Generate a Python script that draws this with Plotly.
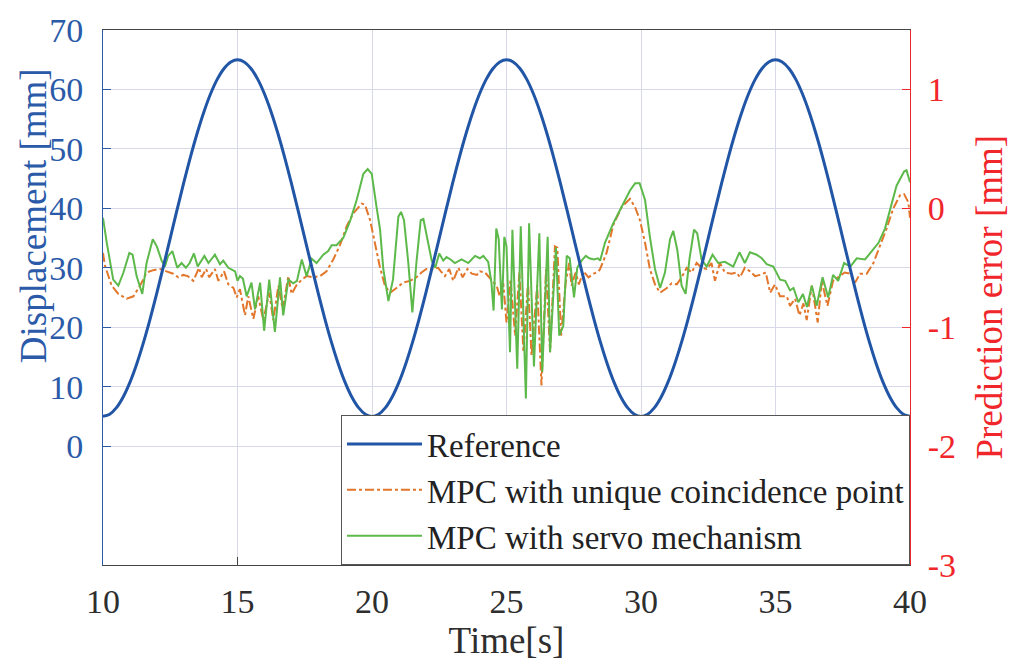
import plotly.graph_objects as go

# ---------------- data ----------------
ref_t = [10.0, 10.25, 10.5, 10.75, 11.0, 11.25, 11.5, 11.75, 12.0, 12.25,
         12.5, 12.75, 13.0, 13.25, 13.5, 13.75, 14.0, 14.25, 14.5, 14.75,
         15.0, 15.25, 15.5, 15.75, 16.0, 16.25, 16.5, 16.75, 17.0, 17.25,
         17.5, 17.75, 18.0, 18.25, 18.5, 18.75, 19.0, 19.25, 19.5, 19.75,
         20.0, 20.25, 20.5, 20.75, 21.0, 21.25, 21.5, 21.75, 22.0, 22.25,
         22.5, 22.75, 23.0, 23.25, 23.5, 23.75, 24.0, 24.25, 24.5, 24.75,
         25.0, 25.25, 25.5, 25.75, 26.0, 26.25, 26.5, 26.75, 27.0, 27.25,
         27.5, 27.75, 28.0, 28.25, 28.5, 28.75, 29.0, 29.25, 29.5, 29.75,
         30.0, 30.25, 30.5, 30.75, 31.0, 31.25, 31.5, 31.75, 32.0, 32.25,
         32.5, 32.75, 33.0, 33.25, 33.5, 33.75, 34.0, 34.25, 34.5, 34.75,
         35.0, 35.25, 35.5, 35.75, 36.0, 36.25, 36.5, 36.75, 37.0, 37.25,
         37.5, 37.75, 38.0, 38.25, 38.5, 38.75, 39.0, 39.25, 39.5, 39.75,
         40.0]
ref_y = [5.0, 5.37, 6.47, 8.27, 10.73, 13.79, 17.37, 21.38, 25.73, 30.31,
         35.0, 39.69, 44.27, 48.62, 52.63, 56.21, 59.27, 61.73, 63.53, 64.63,
         65.0, 64.63, 63.53, 61.73, 59.27, 56.21, 52.63, 48.62, 44.27, 39.69,
         35.0, 30.31, 25.73, 21.38, 17.37, 13.79, 10.73, 8.27, 6.47, 5.37,
         5.0, 5.37, 6.47, 8.27, 10.73, 13.79, 17.37, 21.38, 25.73, 30.31,
         35.0, 39.69, 44.27, 48.62, 52.63, 56.21, 59.27, 61.73, 63.53, 64.63,
         65.0, 64.63, 63.53, 61.73, 59.27, 56.21, 52.63, 48.62, 44.27, 39.69,
         35.0, 30.31, 25.73, 21.38, 17.37, 13.79, 10.73, 8.27, 6.47, 5.37,
         5.0, 5.37, 6.47, 8.27, 10.73, 13.79, 17.37, 21.38, 25.73, 30.31,
         35.0, 39.69, 44.27, 48.62, 52.63, 56.21, 59.27, 61.73, 63.53, 64.63,
         65.0, 64.63, 63.53, 61.73, 59.27, 56.21, 52.63, 48.62, 44.27, 39.69,
         35.0, 30.31, 25.73, 21.38, 17.37, 13.79, 10.73, 8.27, 6.47, 5.37,
         5.0]

ucp_t = [10.0, 10.07, 10.32, 10.57, 10.88, 11.13, 11.38, 11.62, 11.87, 12.12,
         12.36, 12.61, 12.8, 12.98, 13.15, 13.36, 13.57, 13.67, 13.83, 13.95,
         14.16, 14.29, 14.5, 14.66, 14.85, 14.97, 15.09, 15.28, 15.4, 15.59,
         15.77, 15.96, 16.18, 16.33, 16.52, 16.68, 16.89, 17.01, 17.21, 17.39,
         17.57, 17.82, 18.07, 18.31, 18.56, 18.81, 19.06, 19.31, 19.62, 19.74,
         19.93, 20.11, 20.3, 20.48, 20.67, 20.91, 21.16, 21.41, 21.65, 21.84,
         22.02, 22.27, 22.46, 22.56, 22.71, 22.87, 23.02, 23.21, 23.37, 23.55,
         23.71, 23.9, 24.01, 24.2, 24.44, 24.63, 24.75, 24.88, 25.0, 25.15,
         25.32, 25.48, 25.63, 25.8, 25.93, 26.14, 26.3, 26.47, 26.62, 26.8,
         26.89, 27.03, 27.2, 27.33, 27.42, 27.57, 27.69, 27.86, 28.05, 28.24,
         28.42, 28.48, 28.72, 28.97, 29.28, 29.59, 29.78, 29.96, 30.15, 30.33,
         30.52, 30.71, 30.96, 31.14, 31.33, 31.51, 31.7, 31.88, 32.07, 32.25,
         32.44, 32.62, 32.75, 32.93, 33.12, 33.36, 33.55, 33.68, 33.86, 34.05,
         34.24, 34.42, 34.64, 34.8, 34.98, 35.17, 35.42, 35.54, 35.73, 35.89,
         36.04, 36.16, 36.35, 36.57, 36.72, 36.93, 37.14, 37.33, 37.57, 37.78,
         37.96, 38.14, 38.39, 38.64, 38.89, 39.13, 39.38, 39.63, 39.78, 39.94,
         40.0]
ucp_e = [-0.375, -0.48, -0.65, -0.72, -0.76, -0.74, -0.65, -0.54, -0.52, -0.51,
         -0.53, -0.55, -0.58, -0.56, -0.57, -0.61, -0.50, -0.58, -0.51, -0.58,
         -0.51, -0.61, -0.53, -0.64, -0.67, -0.75, -0.68, -0.90, -0.74, -0.93,
         -0.74, -0.94, -0.71, -0.94, -0.65, -0.85, -0.57, -0.72, -0.64, -0.60,
         -0.57, -0.58, -0.57, -0.53, -0.43, -0.31, -0.15, -0.04, 0.04, 0.03,
         -0.10, -0.29, -0.50, -0.65, -0.71, -0.67, -0.625, -0.61, -0.58, -0.54,
         -0.51, -0.51, -0.50, -0.53, -0.57, -0.51, -0.61, -0.50, -0.58, -0.51,
         -0.55, -0.56, -0.53, -0.54, -0.60, -0.65, -0.74, -0.63, -0.96, -0.60,
         -1.07, -0.54, -1.21, -0.625, -1.24, -0.65, -1.49, -0.51, -1.21, -0.32,
         -0.33, -1.07, -0.625, -0.46, -0.65, -0.54, -0.64, -0.53, -0.58, -0.55,
         -0.53, -0.51, -0.375, -0.14, 0.01, 0.08, 0.01, -0.10, -0.29, -0.51,
         -0.64, -0.71, -0.67, -0.63, -0.64, -0.58, -0.50, -0.54, -0.46, -0.50,
         -0.51, -0.46, -0.61, -0.46, -0.54, -0.55, -0.54, -0.58, -0.50, -0.53,
         -0.57, -0.56, -0.54, -0.71, -0.64, -0.74, -0.74, -0.82, -0.76, -0.90,
         -0.80, -0.94, -0.65, -0.96, -0.61, -0.82, -0.61, -0.58, -0.54, -0.55,
         -0.625, -0.55, -0.55, -0.46, -0.32, -0.17, 0.0, 0.11, 0.12, 0.05,
         -0.08]

servo_t = [10.0, 10.14, 10.38, 10.57, 10.76, 10.98, 11.1, 11.25, 11.46, 11.62,
           11.85, 12.0, 12.18, 12.3, 12.42, 12.58, 12.76, 12.92, 13.08, 13.22,
           13.38, 13.52, 13.77, 13.92, 14.16, 14.35, 14.47, 14.66, 14.91, 15.0,
           15.09, 15.2, 15.34, 15.52, 15.65, 15.84, 15.99, 16.18, 16.39, 16.58,
           16.7, 16.89, 17.07, 17.21, 17.39, 17.57, 17.76, 17.94, 18.19, 18.37,
           18.5, 18.68, 18.93, 19.18, 19.43, 19.68, 19.84, 19.99, 20.17, 20.3,
           20.42, 20.61, 20.78, 20.98, 21.08, 21.19, 21.35, 21.5, 21.65, 21.81,
           21.91, 22.06, 22.22, 22.35, 22.5, 22.65, 22.77, 22.92, 23.08, 23.33,
           23.58, 23.83, 24.01, 24.14, 24.32, 24.44, 24.52, 24.62, 24.71, 24.83,
           24.92, 25.0, 25.13, 25.22, 25.4, 25.53, 25.72, 25.84, 26.02, 26.22,
           26.33, 26.53, 26.62, 26.84, 26.96, 27.11, 27.24, 27.35, 27.51, 27.63,
           27.79, 27.95, 28.08, 28.25, 28.4, 28.48, 28.66, 28.97, 29.28, 29.59,
           29.78, 29.95, 30.15, 30.33, 30.52, 30.71, 30.89, 31.08, 31.2, 31.35,
           31.51, 31.66, 31.8, 31.97, 32.09, 32.25, 32.44, 32.66, 32.87, 33.12,
           33.43, 33.66, 33.86, 34.05, 34.3, 34.49, 34.67, 34.92, 35.17, 35.36,
           35.54, 35.67, 35.85, 36.02, 36.17, 36.35, 36.53, 36.75, 36.96, 37.14,
           37.33, 37.55, 37.78, 38.02, 38.33, 38.58, 38.83, 39.07, 39.26, 39.5,
           39.78, 39.87, 40.0]
servo_e = [-0.08, -0.29, -0.60, -0.65, -0.54, -0.375, -0.39, -0.57, -0.72, -0.46,
           -0.26, -0.32, -0.44, -0.49, -0.40, -0.36, -0.50, -0.46, -0.50, -0.46,
           -0.38, -0.49, -0.40, -0.46, -0.39, -0.47, -0.44, -0.50, -0.53, -0.61,
           -0.57, -0.59, -0.74, -0.625, -0.85, -0.625, -1.03, -0.60, -1.04, -0.58,
           -0.90, -0.60, -0.63, -0.61, -0.43, -0.57, -0.425, -0.46, -0.39, -0.36,
           -0.31, -0.31, -0.25, -0.11, 0.07, 0.29, 0.33, 0.29, 0.01, -0.18,
           -0.51, -0.78, -0.60, -0.07, -0.03, -0.10, -0.46, -0.875, -0.46, -0.10,
           -0.09, -0.26, -0.44, -0.50, -0.38, -0.44, -0.41, -0.43, -0.46, -0.43,
           -0.46, -0.40, -0.42, -0.40, -0.45, -0.625, -0.86, -0.17, -0.26, -0.85,
           -0.24, -0.32, -1.21, -0.18, -1.35, -0.15, -1.60, -0.125, -1.33, -0.21,
           -1.375, -0.24, -1.21, -0.33, -1.07, -0.99, -0.40, -0.42, -0.75, -0.50,
           -0.44, -0.40, -0.42, -0.43, -0.42, -0.44, -0.29, -0.125, 0.01, 0.15,
           0.21, 0.21, 0.07, -0.24, -0.51, -0.67, -0.54, -0.26, -0.19, -0.35,
           -0.65, -0.72, -0.43, -0.18, -0.21, -0.43, -0.49, -0.39, -0.46, -0.45,
           -0.49, -0.37, -0.46, -0.37, -0.39, -0.42, -0.47, -0.49, -0.60, -0.61,
           -0.69, -0.67, -0.79, -0.72, -0.83, -0.65, -0.82, -0.58, -0.75, -0.56,
           -0.61, -0.46, -0.49, -0.42, -0.43, -0.36, -0.29, -0.17, -0.01, 0.19,
           0.31, 0.32, 0.22]

x_ticks = [10, 15, 20, 25, 30, 35, 40]
x_labels = ["10", "15", "20", "25", "30", "35", "40"]
left_ticks = [0, 10, 20, 30, 40, 50, 60, 70]
left_labels = ["0", "10", "20", "30", "40", "50", "60", "70"]
right_ticks = [-3, -2, -1, 0, 1]
right_labels = ["-3", "-2", "-1", "0", "1"]

# ---------------- style ----------------
FONT = "Liberation Serif, Times New Roman, serif"
BLUE = "#2155a6"
AXBLUE = "#2b5aa8"
RED = "#f0262b"
ORANGE = "#e2762a"
GREEN = "#5cb94a"
GRID = "#d8d9e8"
DARK = "#2e2e2e"

fig = go.Figure()
fig.add_trace(go.Scatter(x=ref_t, y=ref_y, name="Reference", mode="lines",
                         line=dict(color=BLUE, width=3, shape="spline"),
                         xaxis="x", yaxis="y2"))
fig.add_trace(go.Scatter(x=ucp_t, y=ucp_e, name="MPC with unique coincidence point",
                         mode="lines", line=dict(color=ORANGE, width=2, dash="dashdot"),
                         xaxis="x", yaxis="y"))
fig.add_trace(go.Scatter(x=servo_t, y=servo_e, name="MPC with servo mechanism",
                         mode="lines", line=dict(color=GREEN, width=2),
                         xaxis="x", yaxis="y"))

fig.update_layout(
    width=1009, height=666,
    margin=dict(l=103, r=99, t=25, b=101),
    paper_bgcolor="white", plot_bgcolor="white",
    font=dict(family=FONT, size=34, color=DARK),
    showlegend=True,
    legend=dict(x=1, y=0, xanchor="right", yanchor="bottom",
                bgcolor="white", bordercolor="#555555", borderwidth=1,
                font=dict(family=FONT, size=33, color="#222222"),
                itemwidth=75, tracegroupgap=0),
    xaxis=dict(range=[10, 40], tickvals=x_ticks, ticktext=x_labels,
               showgrid=True, gridcolor=GRID,
               gridwidth=1, zeroline=False, showline=True, linecolor="#444444",
               linewidth=1, mirror=True, ticks="inside", ticklen=8,
               tickcolor="#444444", ticklabelstandoff=6,
               tickfont=dict(family=FONT, size=34, color=DARK),
               title=dict(text="Time[s]", font=dict(family=FONT, size=37, color=DARK),
                          standoff=2)),
    yaxis=dict(range=[-3, 1.5], tickvals=right_ticks, ticktext=right_labels,
               side="right",
               showgrid=False, zeroline=False, showline=True, linecolor=RED,
               linewidth=1, ticks="inside", ticklen=8, tickcolor=RED,
               ticklabelstandoff=10,
               tickfont=dict(family=FONT, size=34, color=RED)),
    yaxis2=dict(range=[-20, 70], tickvals=left_ticks, ticktext=left_labels,
                side="left", overlaying="y",
                showgrid=True, gridcolor=GRID, gridwidth=1, zeroline=False,
                showline=True, linecolor=AXBLUE, linewidth=1, ticks="inside",
                ticklen=8, tickcolor=AXBLUE, ticklabelstandoff=12,
                tickfont=dict(family=FONT, size=34, color=AXBLUE)),
    annotations=[
        dict(text="Displacement [mm]", xref="paper", yref="paper",
             x=-0.0867, y=0.652, xanchor="center", yanchor="middle",
             textangle=-90, showarrow=False,
             font=dict(family=FONT, size=37, color=AXBLUE)),
        dict(text="Prediction error [mm]", xref="paper", yref="paper",
             x=1.098, y=0.50, xanchor="center", yanchor="middle",
             textangle=-90, showarrow=False,
             font=dict(family=FONT, size=37, color=RED)),
    ],
)

fig.write_html("out.html")
